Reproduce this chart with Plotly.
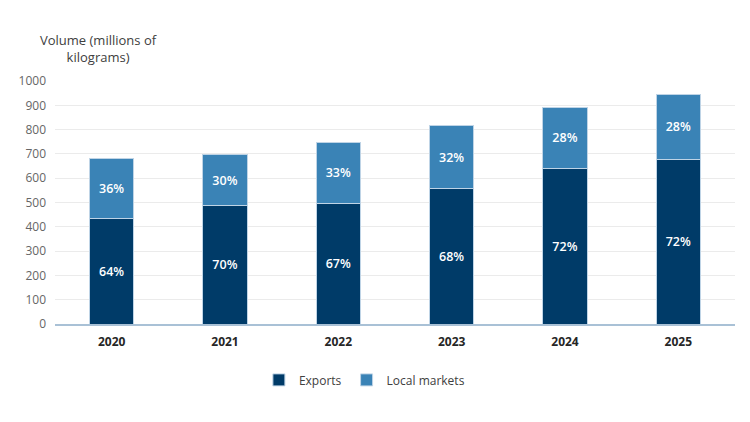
import plotly.graph_objects as go

years = ["2020", "2021", "2022", "2023", "2024", "2025"]
exports = [434, 487, 497, 556, 641, 679]
local = [248, 209, 249, 262, 249, 265]
exports_pct = ["64%", "70%", "67%", "68%", "72%", "72%"]
local_pct = ["36%", "30%", "33%", "32%", "28%", "28%"]
y_ticks = [0, 100, 200, 300, 400, 500, 600, 700, 800, 900, 1000]

FONT = "Open Sans"

fig = go.Figure()
fig.add_trace(go.Bar(
    x=years, y=exports, name="Exports", text=exports_pct,
    textposition="inside", insidetextanchor="middle", textangle=0,
    textfont=dict(color="white", size=12.5, family=FONT, weight=600),
    marker=dict(color="#003B68", line=dict(color="#BFD4E6", width=1)),
))
fig.add_trace(go.Bar(
    x=years, y=local, name="Local markets", text=local_pct,
    textposition="inside", insidetextanchor="middle", textangle=0,
    textfont=dict(color="white", size=12.5, family=FONT, weight=600),
    marker=dict(color="#3A83B6", line=dict(color="#BFD4E6", width=1)),
))

fig.update_layout(
    barmode="stack",
    bargap=0.61,
    width=750, height=422,
    margin=dict(l=55, r=15, t=81, b=98, autoexpand=False),
    plot_bgcolor="white", paper_bgcolor="white",
    font=dict(family=FONT, color="#595959", size=12),
    showlegend=True,
    legend=dict(orientation="h", x=0.455, xanchor="center",
                y=-0.23, yanchor="middle",
                font=dict(size=12, color="#404040", family=FONT),
                itemwidth=30, traceorder="normal"),
)
fig.update_yaxes(
    range=[0, 1000], tickvals=y_ticks, showgrid=True, gridcolor="#EBEBEB",
    gridwidth=1, zeroline=False, showline=False,
    tickfont=dict(size=12, color="#666666"), ticks="", ticklabelstandoff=8,
)
fig.update_xaxes(
    showline=True, linecolor="#A9C1D6", linewidth=1.5,
    tickfont=dict(size=12, color="#262626", family=FONT, weight="bold"),
    ticks="", ticklabelstandoff=6,
)
fig.add_annotation(
    text="Volume (millions of<br>kilograms)", xref="paper", yref="paper",
    x=(98 - 55) / 680, y=1.135, xanchor="center", yanchor="middle",
    showarrow=False, font=dict(size=13, color="#404040", family=FONT), align="center",
)

fig.write_html("out.html")
